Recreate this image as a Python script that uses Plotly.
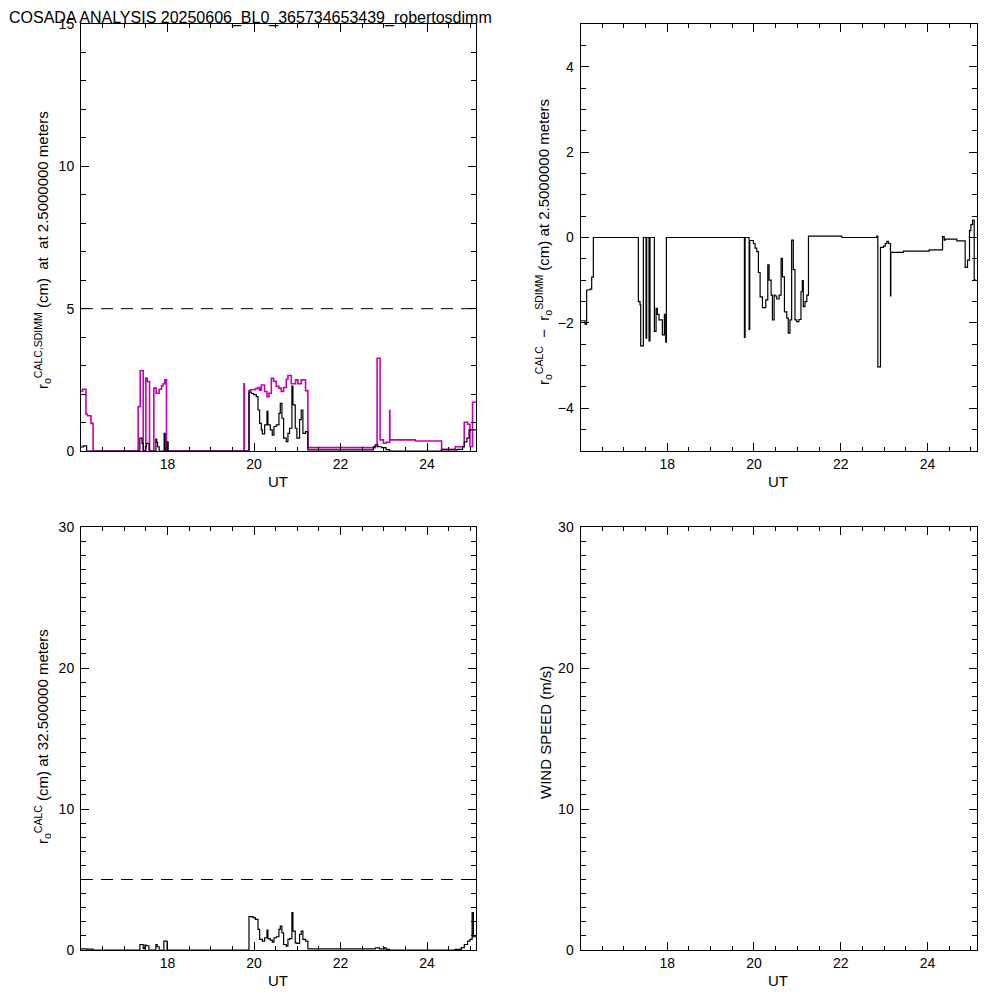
import plotly.graph_objects as go

# r0 SDIMM (magenta) and r0 CALC (black) at 2.5 m, step data
ut_sdimm = [16.00, 16.04, 16.115, 16.15, 16.23, 16.28, 17.322, 17.368, 17.438, 17.499, 17.53, 17.584,
            17.684, 17.737, 17.806, 17.861, 17.899, 17.938, 17.976, 19.767, 19.775, 19.883, 19.914,
            20.03, 20.09, 20.129, 20.168, 20.244, 20.298, 20.344, 20.399, 20.452, 20.514, 20.575,
            20.629, 20.683, 20.745, 20.783, 20.86, 20.96, 21.013, 21.09, 21.19, 21.244, 22.798,
            22.844, 22.913, 22.99, 23.052, 23.135, 23.14, 23.728, 24.335, 24.651, 24.858, 24.935,
            24.99, 25.05, 25.13]
r0_sdimm = [2.11, 2.17, 1.29, 1.24, 0.97, 0.0, 1.56, 2.82, 0.0, 2.56, 2.44, 0.0,
            2.21, 2.03, 2.17, 2.29, 2.36, 2.50, 0.0, 2.36, 0.0, 2.12, 2.15,
            2.19, 2.23, 2.14, 2.32, 2.09, 1.91, 2.03, 2.55, 2.45, 2.27, 2.21,
            2.09, 2.23, 2.52, 2.65, 2.36, 2.50, 2.36, 2.50, 2.12, 0.12, 0.16,
            3.26, 0.39, 0.27, 0.31, 1.42, 0.39, 0.35, 0.06, 0.15, 1.01, 0.94,
            0.16, 1.71, 1.71]

ut_calc = [16.00, 16.05, 16.13, 17.36, 17.41, 17.44, 17.49, 17.515, 17.576, 17.73, 17.75, 17.77,
           17.807, 17.922, 17.945, 17.99, 18.015, 19.883, 19.94, 19.99, 20.052, 20.091, 20.129,
           20.168, 20.191, 20.245, 20.298, 20.321, 20.375, 20.421, 20.46, 20.514, 20.575, 20.606,
           20.644, 20.683, 20.744, 20.783, 20.821, 20.875, 20.898, 20.952, 20.99, 21.052, 21.09,
           21.129, 21.19, 21.244, 22.76, 22.80, 22.86, 22.95, 23.05, 23.13, 24.33, 24.70, 24.82,
           24.86, 24.92, 24.97, 25.13]
r0_calc = [0.14, 0.18, 0.0, 0.45, 0.27, 0.0, 0.15, 0.27, 0.0, 0.42, 0.30, 0.15,
           0.0, 0.62, 0.0, 0.32, 0.0, 2.07, 2.02, 1.98, 1.91, 1.44, 0.97,
           0.74, 0.60, 0.92, 1.39, 0.92, 0.74, 0.56, 0.86, 0.92, 1.32, 1.67,
           1.15, 0.45, 0.33, 0.62, 0.80, 2.28, 1.62, 0.80, 0.45, 1.10, 1.44,
           0.62, 0.68, 0.04, 0.15, 0.22, 0.15, 0.12, 0.05, 0.0, 0.04, 0.06, 0.15,
           0.32, 0.45, 0.74, 0.74]

# r0 CALC - r0 SDIMM
ut_diff = [16.00, 16.104, 16.142, 16.219, 16.258, 16.296, 17.334, 17.372, 17.388, 17.449, 17.511,
           17.526, 17.58, 17.603, 17.703, 17.742, 17.772, 17.811, 17.888, 17.934, 17.965, 17.98,
           19.779, 19.795, 19.887, 19.902, 19.987, 20.025, 20.064, 20.102, 20.141, 20.195, 20.272,
           20.318, 20.348, 20.395, 20.425, 20.464, 20.487, 20.525, 20.579, 20.625, 20.656, 20.702,
           20.756, 20.79, 20.829, 20.868, 20.906, 20.945, 20.983, 21.037, 21.083, 21.114, 21.137,
           21.176, 21.218, 21.256, 22.025, 22.832, 22.855, 22.916, 22.986, 23.024, 23.063, 23.10,
           23.147, 23.155, 23.447, 24.039, 24.347, 24.385, 24.408, 24.677, 24.869, 24.923, 24.969,
           25.0, 25.039, 25.077, 25.13]
r0_diff = [-1.95, -2.03, -1.23, -1.21, -0.93, 0.0, -1.50, -1.58, -2.54, 0.0, -2.36,
           0.0, -2.42, 0.0, -2.20, -1.66, -1.80, -1.93, -2.28, -1.80, -2.45, 0.0,
           -2.34, 0.0, -2.15, -0.07, -0.14, -0.25, -0.33, -0.82, -1.39, -1.64, -1.46,
           -0.64, -1.00, -1.35, -1.93, -1.35, -1.37, -1.44, -1.35, -0.49, -0.92, -1.74,
           -1.89, -2.24, -1.93, -0.06, -0.75, -1.93, -1.97, -1.92, -1.27, -1.01, -1.62,
           -1.50, -1.35, 0.03, 0.0, 0.03, -3.03, -0.23, -0.20, -0.14, -0.09, -0.14,
           -1.37, -0.35, -0.32, -0.29, 0.02, -0.06, -0.04, -0.08, -0.70, -0.53, 0.16,
           0.30, 0.41, -1.00, -1.00]

# r0 CALC at 32.5 m
ut_calc32 = [16.00, 16.13, 16.28, 17.361, 17.438, 17.476, 17.515, 17.569, 17.73, 17.761, 17.807,
             17.915, 17.99, 19.883, 19.975, 20.029, 20.091, 20.129, 20.191, 20.245, 20.298,
             20.321, 20.375, 20.421, 20.46, 20.514, 20.575, 20.606, 20.644, 20.683, 20.744,
             20.783, 20.821, 20.875, 20.898, 20.952, 20.99, 21.052, 21.09, 21.129, 21.19,
             21.244, 22.805, 22.897, 23.013, 23.052, 23.13, 24.65, 24.79, 24.86, 24.935,
             24.99, 25.04, 25.07, 25.13]
r0_calc32 = [0.08, 0.06, 0.0, 0.39, 0.10, 0.34, 0.30, 0.0, 0.39, 0.23, 0.0,
             0.63, 0.0, 2.36, 2.29, 2.17, 1.46, 0.75, 0.63, 0.87, 1.41,
             0.80, 0.70, 0.56, 0.87, 0.94, 1.46, 1.70, 1.22, 0.39, 0.27,
             0.75, 0.80, 2.65, 1.34, 0.51, 0.47, 1.10, 1.34, 0.75, 0.63,
             0.08, 0.15, 0.08, 0.15, 0.05, 0.0, 0.05, 0.17, 0.39, 0.63,
             0.75, 2.65, 0.94, 0.94]

ut_limit = [16.0, 25.13]
r0_limit = [5, 5]

x_ticks = [18, 20, 22, 24]
FONT = "Liberation Sans, Arial, sans-serif"
MAGENTA = "#C800B4"

# the page body adds an 8 px margin, so shift everything back by that
OFF = 8


def sx(v):
    return (v - OFF) / 1000


def sy(v):
    return 1 - (v - OFF) / 1000


fig = go.Figure()

# top left
fig.add_trace(go.Scatter(x=ut_limit, y=r0_limit, mode="lines", xaxis="x", yaxis="y",
                         line=dict(color="black", width=1, dash="12px,8px")))
fig.add_trace(go.Scatter(x=ut_sdimm, y=r0_sdimm, mode="lines", line_shape="hv", xaxis="x", yaxis="y",
                         line=dict(color=MAGENTA, width=1.6)))
fig.add_trace(go.Scatter(x=ut_calc, y=r0_calc, mode="lines", line_shape="hv", xaxis="x", yaxis="y",
                         line=dict(color="black", width=1.2)))
# top right
fig.add_trace(go.Scatter(x=ut_diff, y=r0_diff, mode="lines", line_shape="hv", xaxis="x2", yaxis="y2",
                         line=dict(color="black", width=1.2)))
# bottom left
fig.add_trace(go.Scatter(x=ut_limit, y=r0_limit, mode="lines", xaxis="x3", yaxis="y3",
                         line=dict(color="black", width=1, dash="12px,8px")))
fig.add_trace(go.Scatter(x=ut_calc32, y=r0_calc32, mode="lines", line_shape="hv", xaxis="x3", yaxis="y3",
                         line=dict(color="black", width=1.2)))
# bottom right (empty wind speed)
fig.add_trace(go.Scatter(x=[], y=[], mode="lines", xaxis="x4", yaxis="y4"))


def xax(domain, anchor):
    return dict(domain=domain, anchor=anchor, range=[16.0, 25.13], tickvals=x_ticks,
                ticks="inside", ticklen=8, tickcolor="black", showline=True, linecolor="black",
                linewidth=1, mirror="allticks", showgrid=False, zeroline=False, automargin=False,
                tickfont=dict(family=FONT, size=14, color="black"),
                minor=dict(ticks="inside", ticklen=4, dtick=0.5, tick0=16, tickcolor="black",
                           showgrid=False))


def yax(domain, anchor, rng, vals, minor):
    return dict(domain=domain, anchor=anchor, range=rng, tickvals=vals,
                ticks="inside", ticklen=8, tickcolor="black", showline=True, linecolor="black",
                linewidth=1, mirror="allticks", showgrid=False, zeroline=False, automargin=False,
                tickfont=dict(family=FONT, size=14, color="black"), ticklabelstandoff=3,
                minor=dict(ticks="inside", ticklen=5, dtick=minor, tick0=0, tickcolor="black",
                           showgrid=False))


left = [sx(81), sx(476)]
right = [sx(580.5), sx(976.5)]
top = [sy(451), sy(24)]
bottom = [sy(950), sy(527)]

ann_font = dict(family=FONT, size=15, color="black")
annotations = [
    dict(text="COSADA ANALYSIS 20250606_BL0_365734653439_robertosdimm", x=0, y=1,
         xanchor="left", yanchor="top", borderpad=0, font=dict(family=FONT, size=16, color="black")),
    dict(text="UT", x=sx(278), y=sy(481), font=ann_font),
    dict(text="UT", x=sx(778), y=sy(481), font=ann_font),
    dict(text="UT", x=sx(278), y=sy(980), font=ann_font),
    dict(text="UT", x=sx(778), y=sy(980), font=ann_font),
    dict(text="r<sub>o</sub><sup>CALC,SDIMM</sup> (cm)  at  at 2.5000000 meters", x=sx(42), y=sy(250),
         textangle=-90, font=ann_font),
    dict(text="r<sub>o</sub><sup>CALC</sup>  \u2212  r<sub>o</sub><sup>SDIMM</sup> (cm) at 2.5000000 meters",
         x=sx(543), y=sy(242), textangle=-90, font=ann_font),
    dict(text="r<sub>o</sub><sup>CALC</sup> (cm) at 32.500000 meters", x=sx(42), y=sy(737),
         textangle=-90, font=ann_font),
    dict(text="WIND SPEED (m/s)", x=sx(545), y=sy(733), textangle=-90, font=ann_font),
]
for a in annotations:
    a.setdefault("xanchor", "center")
    a.setdefault("yanchor", "middle")
    a.update(xref="paper", yref="paper", showarrow=False)

fig.update_layout(
    width=1000, height=1000,
    margin=dict(l=0, r=0, t=0, b=0, pad=0, autoexpand=False),
    paper_bgcolor="white", plot_bgcolor="white",
    showlegend=False,
    xaxis=xax(left, "y"), yaxis=yax(top, "x", [0, 15], [0, 5, 10, 15], 1),
    xaxis2=xax(right, "y2"), yaxis2=yax(top, "x2", [-5, 5], [-4, -2, 0, 2, 4], 0.5),
    xaxis3=xax(left, "y3"), yaxis3=yax(bottom, "x3", [0, 30], [0, 10, 20, 30], 1),
    xaxis4=xax(right, "y4"), yaxis4=yax(bottom, "x4", [0, 30], [0, 10, 20, 30], 1),
    annotations=annotations,
)

fig.write_html("out.html")
